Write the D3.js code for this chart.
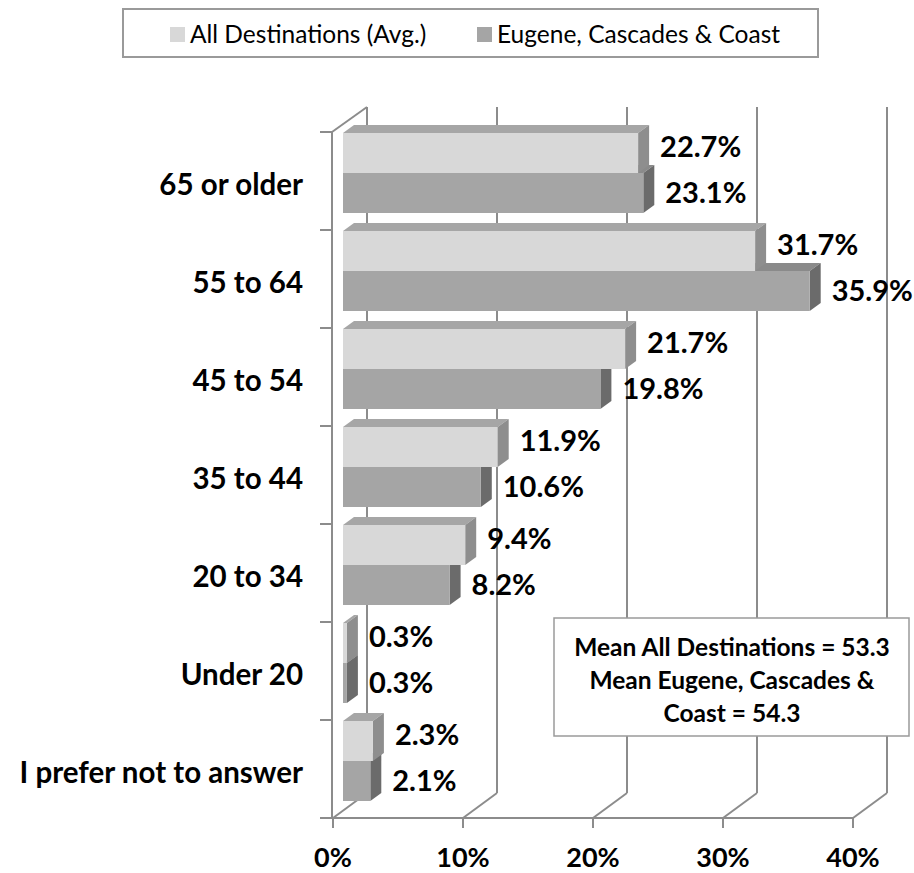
<!DOCTYPE html>
<html>
<head>
<meta charset="utf-8">
<script src="https://cdn.jsdelivr.net/npm/d3@7"></script>
<style>
  body { margin: 0; background: #fff; }
  text { font-family: Lato, "Open Sans", "Noto Sans", sans-serif; fill: #000; }
</style>
</head>
<body>
<svg id="chart" width="914" height="873"></svg>
<script>
// Age groups of visitors, share of respondents (%)
const categories = ["65 or older", "55 to 64", "45 to 54", "35 to 44", "20 to 34", "Under 20", "I prefer not to answer"];
const seriesNames = ["All Destinations (Avg.)", "Eugene, Cascades & Coast"];
const allDestinations = [22.7, 31.7, 21.7, 11.9, 9.4, 0.3, 2.3];
const eugeneCascadesCoast = [23.1, 35.9, 19.8, 10.6, 8.2, 0.3, 2.1];
const xTicks = [0, 10, 20, 30, 40];
const noteLines = ["Mean All Destinations = 53.3", "Mean Eugene, Cascades &", "Coast = 54.3"];

const series = [allDestinations, eugeneCascadesCoast];
const svg = d3.select("#chart");

// faces of each series: front, top, side
const palette = [
  { front: "#d8d8d8", top: "#a6a6a6", side: "#8e8e8e" },
  { front: "#a5a5a5", top: "#8a8a8a", side: "#6b6b6b" }
];
const axisColor = "#8c8c8c";

// plot geometry (front plane) and 3-D offsets
const x = d3.scaleLinear().domain([0, 40]).range([333, 853]);
const y = d3.scaleBand().domain(categories).range([132, 818]).padding(0);
const yIn = d3.scaleBand().domain([0, 1]).range([8, 88]).padding(0);
const wall = { dx: 34, dy: -25 };
const barShift = { dx: 10, dy: -7 };
const barDepth = { dx: 11, dy: -8 };
const floorY = y.range()[1];
const topY = y.range()[0];

const grid = svg.append("g").attr("stroke", axisColor).attr("stroke-width", 2).attr("fill", "none");

// back-wall gridlines and floor diagonals
xTicks.forEach(t => {
  const fx = x(t);
  grid.append("line")
    .attr("x1", fx + wall.dx).attr("y1", floorY + wall.dy)
    .attr("x2", fx + wall.dx).attr("y2", topY + wall.dy);
  grid.append("line")
    .attr("x1", fx).attr("y1", floorY)
    .attr("x2", fx + wall.dx).attr("y2", floorY + wall.dy);
  // bottom tick
  grid.append("line")
    .attr("x1", fx).attr("y1", floorY)
    .attr("x2", fx).attr("y2", floorY + 10);
});

// side wall front edge and its top diagonal
grid.append("line")
  .attr("x1", x(0) - 1).attr("y1", topY)
  .attr("x2", x(0) - 1).attr("y2", floorY);
grid.append("line")
  .attr("x1", x(0) - 1).attr("y1", topY)
  .attr("x2", x(0) + wall.dx).attr("y2", topY + wall.dy);

// floor front edge
grid.append("line")
  .attr("x1", x(0) - 13).attr("y1", floorY)
  .attr("x2", x(40)).attr("y2", floorY);

// category ticks
d3.range(categories.length + 1).forEach(i => {
  const ty = topY + i * y.step();
  grid.append("line")
    .attr("x1", x(0) - 13).attr("y1", ty)
    .attr("x2", x(0) - 1).attr("y2", ty);
});

// 3-D bars; lower series first so the upper bar overlaps its top face
const bars = svg.append("g");
[1, 0].forEach(s => {
  const col = palette[s];
  categories.forEach((c, i) => {
    const v = series[s][i];
    const x0 = x(0) + barShift.dx;
    const x1 = x(v) + barShift.dx;
    const y0 = y(c) + yIn(s) + barShift.dy;
    const h = yIn.bandwidth();
    const g = bars.append("g");
    g.append("polygon")
      .attr("points", [[x0, y0], [x1, y0], [x1 + barDepth.dx, y0 + barDepth.dy], [x0 + barDepth.dx, y0 + barDepth.dy]].join(" "))
      .attr("fill", col.top);
    g.append("polygon")
      .attr("points", [[x1, y0], [x1 + barDepth.dx, y0 + barDepth.dy], [x1 + barDepth.dx, y0 + h + barDepth.dy], [x1, y0 + h]].join(" "))
      .attr("fill", col.side);
    g.append("rect")
      .attr("x", x0).attr("y", y0)
      .attr("width", x1 - x0).attr("height", h)
      .attr("fill", col.front);
  });
});

// value labels
const labels = svg.append("g")
  .attr("font-size", 29).attr("font-weight", 700);
[0, 1].forEach(s => {
  categories.forEach((c, i) => {
    const v = series[s][i];
    labels.append("text")
      .attr("x", x(v) + barShift.dx + 22)
      .attr("y", y(c) + yIn(s) + barShift.dy + yIn.bandwidth() / 2 + (s === 0 ? -6 : 0))
      .attr("dy", "0.36em")
      .text(v.toFixed(1) + "%");
  });
});

// category labels
svg.append("g")
  .attr("font-size", 29.5).attr("font-weight", 700).attr("text-anchor", "end")
  .selectAll("text").data(categories).join("text")
  .attr("x", 303)
  .attr("y", d => y(d) + y.bandwidth() / 2 + 3)
  .attr("dy", "0.36em")
  .text(d => d);

// value axis labels
svg.append("g")
  .attr("font-size", 27).attr("font-weight", 700).attr("text-anchor", "middle")
  .selectAll("text").data(xTicks).join("text")
  .attr("x", d => x(d))
  .attr("y", 857)
  .attr("dy", "0.36em")
  .text(d => d + "%");

// legend
const legend = svg.append("g");
legend.append("rect")
  .attr("x", 123).attr("y", 9).attr("width", 695).attr("height", 48)
  .attr("fill", "#fff").attr("stroke", "#9a9a9a").attr("stroke-width", 2);
const legendX = [170, 477];
seriesNames.forEach((name, s) => {
  legend.append("rect")
    .attr("x", legendX[s]).attr("y", 27).attr("width", 15).attr("height", 15)
    .attr("fill", palette[s].front);
  legend.append("text")
    .attr("x", legendX[s] + 20).attr("y", 34)
    .attr("dy", "0.36em")
    .attr("font-size", 24.5)
    .text(name);
});

// mean note box
const note = svg.append("g");
note.append("rect")
  .attr("x", 554).attr("y", 618).attr("width", 355).attr("height", 118)
  .attr("fill", "#fff").attr("stroke", "#9a9a9a").attr("stroke-width", 1.5);
note.selectAll("text").data(noteLines).join("text")
  .attr("x", 732)
  .attr("y", (d, i) => 647 + i * 33)
  .attr("dy", "0.36em")
  .attr("text-anchor", "middle")
  .attr("font-size", 24.5).attr("font-weight", 700)
  .text(d => d);
</script>
</body>
</html>
